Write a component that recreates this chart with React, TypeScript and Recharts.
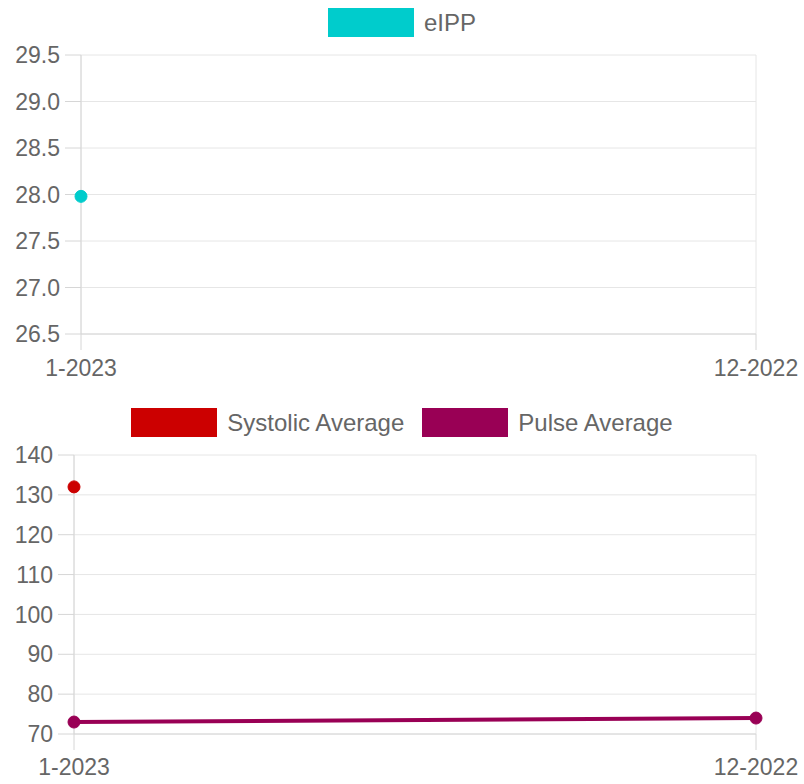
import { LineChart, Line, XAxis, YAxis, CartesianGrid, Legend } from "recharts";

const months = ["1-2023", "12-2022"];
const eipp = [27.98, null];
const systolicAvg = [132, null];
const pulseAvg = [73, 74];
const eippTicks = [26.5, 27, 27.5, 28, 28.5, 29, 29.5];
const bpTicks = [70, 80, 90, 100, 110, 120, 130, 140];

const topData = months.map((m, i) => ({ month: m, eIPP: eipp[i] }));
const bottomData = months.map((m, i) => ({ month: m, systolic: systolicAvg[i], pulse: pulseAvg[i] }));

const FONT = "'Liberation Sans', Arial, sans-serif";
const TEXT = "#666";
const GRID = "#e6e6e6";
const AXIS = "#d6d6d6";

const tick = { fontSize: 23, fill: TEXT, fontFamily: FONT };

// chart.js style legend: wide colour box + label, kept in series order
function BoxLegend({ payload }: any) {
  return (
    <div style={{ height: 47, display: "flex", justifyContent: "center", gap: 18, fontFamily: FONT, fontSize: 24, color: TEXT }}>
      {(payload || []).map((p: any) => (
        <div key={p.value} style={{ display: "flex", alignItems: "flex-start" }}>
          <div style={{ width: 86, height: 29, background: p.color, marginRight: 10 }} />
          <span style={{ lineHeight: "29px" }}>{p.value}</span>
        </div>
      ))}
    </div>
  );
}

export default function App() {
  return (
    <div style={{ position: "absolute", left: 0, top: 0, width: 804, height: 784, background: "#fff" }}>
      <LineChart width={804} height={390} data={topData} margin={{ top: 8, right: 48, bottom: 0, left: 0 }}>
        <CartesianGrid stroke={GRID} />
        <XAxis dataKey="month" height={56} tickSize={16} tickMargin={10} tick={tick} stroke={AXIS} interval={0} />
        <YAxis
          width={81} domain={[26.5, 29.5]} ticks={eippTicks} tickSize={16} tickMargin={5}
          tick={tick} stroke={AXIS} tickFormatter={(v) => v.toFixed(1)}
        />
        <Legend verticalAlign="top" content={BoxLegend} itemSorter={null as any} wrapperStyle={{ left: 0, width: 804 }} />
        <Line dataKey="eIPP" name="eIPP" stroke="#00cccc" strokeWidth={4} dot={{ r: 6, fill: "#00cccc", stroke: "#00cccc", strokeWidth: 1 }} isAnimationActive={false} />
      </LineChart>
      <div style={{ position: "absolute", left: 0, top: 400 }}>
        <LineChart width={804} height={384} data={bottomData} margin={{ top: 8, right: 48, bottom: 0, left: 0 }}>
          <CartesianGrid stroke={GRID} />
          <XAxis dataKey="month" height={50} tickSize={16} tickMargin={9} tick={tick} stroke={AXIS} interval={0} />
          <YAxis width={74} domain={[70, 140]} ticks={bpTicks} tickSize={16} tickMargin={5} tick={tick} stroke={AXIS} />
          <Legend verticalAlign="top" content={BoxLegend} itemSorter={null as any} wrapperStyle={{ left: 0, width: 804 }} />
          <Line dataKey="systolic" name="Systolic Average" stroke="#cc0000" strokeWidth={4} dot={{ r: 6, fill: "#cc0000", stroke: "#cc0000", strokeWidth: 1 }} isAnimationActive={false} />
          <Line dataKey="pulse" name="Pulse Average" stroke="#990055" strokeWidth={4} dot={{ r: 6, fill: "#990055", stroke: "#990055", strokeWidth: 1 }} isAnimationActive={false} />
        </LineChart>
      </div>
    </div>
  );
}
